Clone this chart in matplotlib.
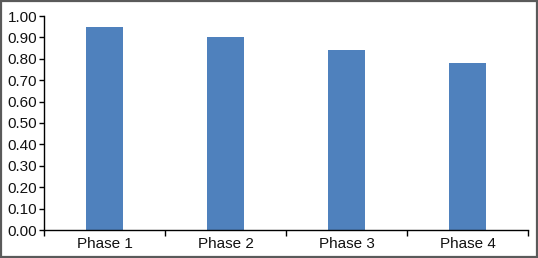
import matplotlib
matplotlib.use("Agg")
import matplotlib.pyplot as plt
from matplotlib.patches import Rectangle

categories = ["Phase 1", "Phase 2", "Phase 3", "Phase 4"]
values = [0.95, 0.90, 0.84, 0.78]
yticks = [0.0, 0.1, 0.2, 0.3, 0.4, 0.5, 0.6, 0.7, 0.8, 0.9, 1.0]

plt.rcParams['font.family'] = ['Liberation Sans', 'DejaVu Sans']

fig = plt.figure(figsize=(5.38, 2.58), dpi=100)
ax = fig.add_axes([44/538, 28/258, 484/538, 214/258])

x = list(range(len(categories)))
ax.bar(x, values, width=0.31, color="#4F81BD")

ax.set_xlim(-0.5, len(categories) - 0.5)
ax.set_ylim(0, 1.0)
ax.set_yticks(yticks)
ax.set_yticklabels([f"{v:.2f}" for v in yticks], fontsize=11, color='#111111')

ax.set_xticks([i - 0.5 for i in range(len(categories) + 1)])
ax.set_xticklabels([])
ax.set_xticks(x, minor=True)
ax.set_xticklabels(categories, minor=True, fontsize=11, color='#111111')
ax.tick_params(axis='x', which='minor', length=0, pad=5)
ax.tick_params(axis='x', which='major', length=4, direction='out', width=1)
ax.tick_params(axis='y', length=3.5, direction='out', width=1, pad=1.5)

for s in ['top', 'right']:
    ax.spines[s].set_visible(False)
for s in ['left', 'bottom']:
    ax.spines[s].set_linewidth(1)
    ax.spines[s].set_color('black')

fig.patches.append(Rectangle((0.001, 0.002), 0.997, 0.995, transform=fig.transFigure,
                             fill=False, edgecolor='#5a5a5a', linewidth=1.6))

fig.savefig("out.png", dpi=100)
